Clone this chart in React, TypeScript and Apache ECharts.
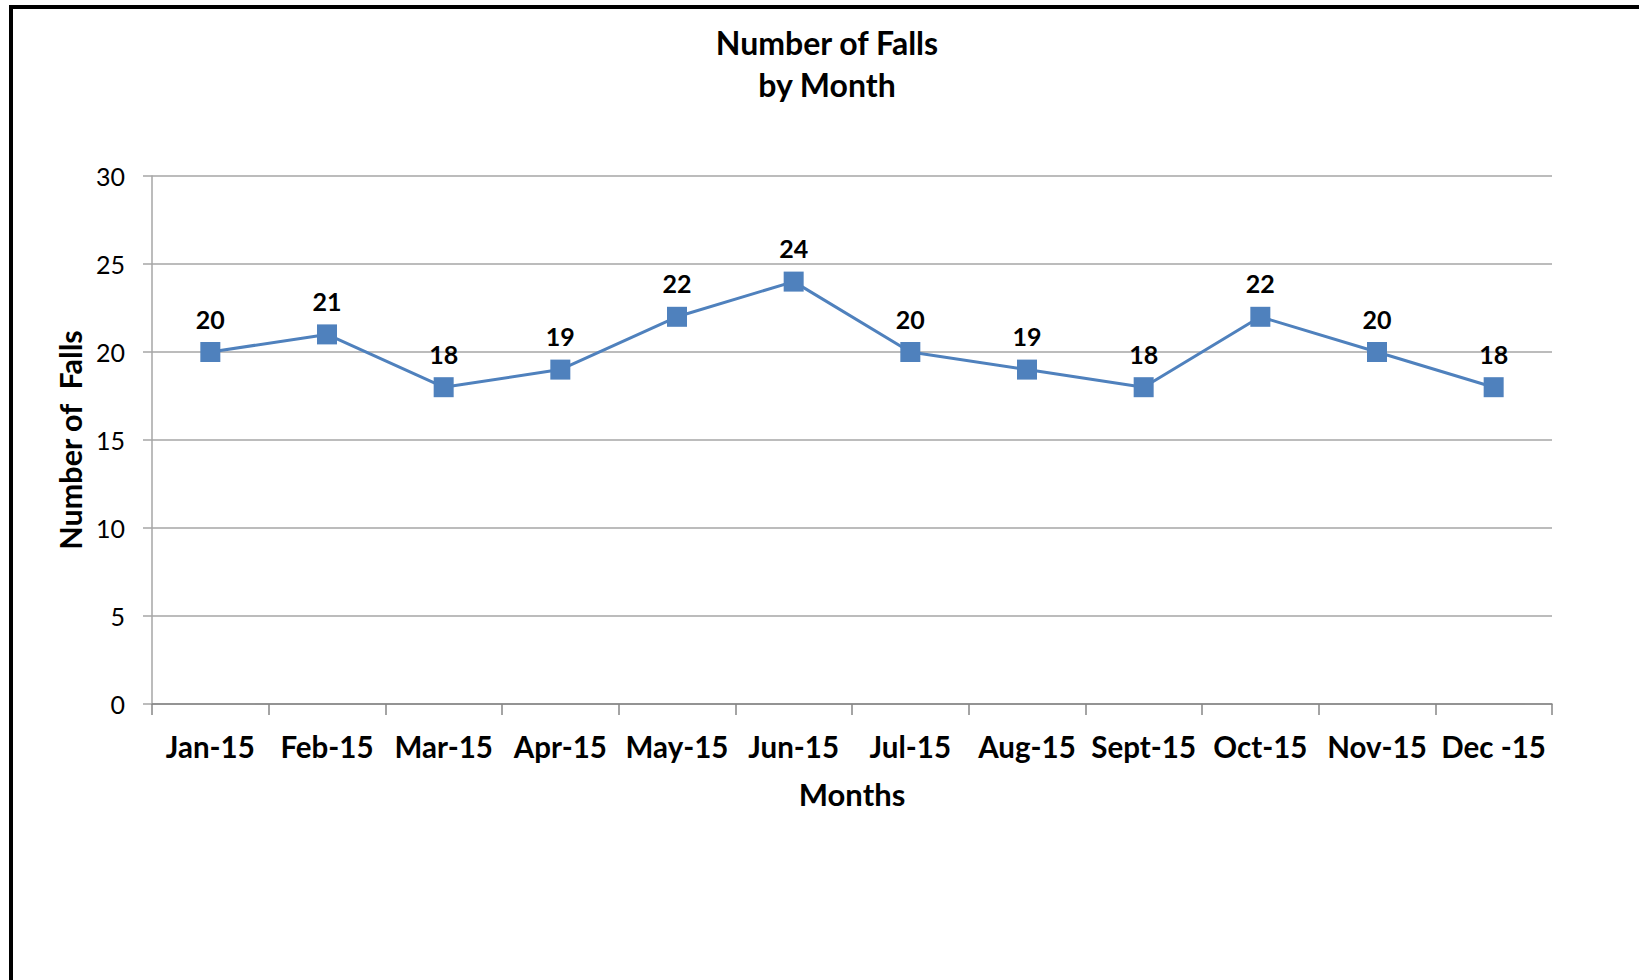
import React, { useEffect, useRef } from "react";
import * as echarts from "echarts";

const months = ["Jan-15", "Feb-15", "Mar-15", "Apr-15", "May-15", "Jun-15", "Jul-15", "Aug-15", "Sept-15", "Oct-15", "Nov-15", "Dec -15"];
const falls = [20, 21, 18, 19, 22, 24, 20, 19, 18, 22, 20, 18];
const titleText = "Number of Falls\nby Month";
const yAxisTitle = "Number of  Falls";
const xAxisTitle = "Months";

const FONT = "Lato, 'Open Sans', sans-serif";

export default function App() {
  const ref = useRef<HTMLDivElement>(null);
  useEffect(() => {
    if (!ref.current) return;
    const chart = echarts.init(ref.current, undefined, { renderer: "svg" });
    chart.setOption({
      animation: false,
      backgroundColor: "#ffffff",
      textStyle: { fontFamily: FONT },
      title: {
        text: titleText,
        left: 822,
        top: 16,
        textAlign: "center",
        textStyle: { fontFamily: FONT, fontWeight: "bold", fontSize: 32, lineHeight: 42, color: "#000" },
      },
      graphic: [
        { type: "rect", shape: { x: 9, y: 5, width: 1630, height: 4 }, style: { fill: "#000" } },
        { type: "rect", shape: { x: 9, y: 5, width: 4, height: 975 }, style: { fill: "#000" } },
      ],
      grid: { left: 152, top: 176, width: 1400, height: 528, containLabel: false },
      xAxis: {
        type: "category",
        data: months,
        boundaryGap: true,
        name: xAxisTitle,
        nameLocation: "middle",
        nameGap: 74,
        nameTextStyle: { fontFamily: FONT, fontWeight: "bold", fontSize: 31, color: "#000" },
        axisLine: { lineStyle: { color: "#868686", width: 1.5 } },
        axisTick: { show: true, length: 11, alignWithLabel: false, lineStyle: { color: "#868686", width: 1.5 } },
        axisLabel: { margin: 27, fontFamily: FONT, fontWeight: "bold", fontSize: 29.5, color: "#000", interval: 0 },
        splitLine: { show: false },
      },
      yAxis: {
        type: "value",
        min: 0,
        max: 30,
        interval: 5,
        name: yAxisTitle,
        nameLocation: "middle",
        nameRotate: 90,
        nameGap: 67,
        nameTextStyle: { fontFamily: FONT, fontWeight: "bold", fontSize: 30.5, color: "#000" },
        axisLine: { show: true, lineStyle: { color: "#A6A6A6", width: 1.5 } },
        axisTick: { show: true, length: 9, lineStyle: { color: "#A6A6A6", width: 1.5 } },
        axisLabel: { margin: 27, fontFamily: FONT, fontSize: 25, color: "#000" },
        splitLine: { show: true, lineStyle: { color: "#A6A6A6", width: 1.5 } },
      },
      series: [
        {
          type: "line",
          data: falls,
          symbol: "rect",
          symbolSize: 20,
          lineStyle: { color: "#4F81BD", width: 3 },
          itemStyle: { color: "#4F81BD" },
          label: {
            show: true,
            position: "top",
            distance: 11,
            fontFamily: FONT,
            fontWeight: "bold",
            fontSize: 25,
            color: "#000",
          },
        },
      ],
    });
    return () => chart.dispose();
  }, []);
  return (
    <div
      ref={ref}
      style={{ position: "fixed", left: 0, top: 0, width: 1639, height: 980 }}
    />
  );
}
